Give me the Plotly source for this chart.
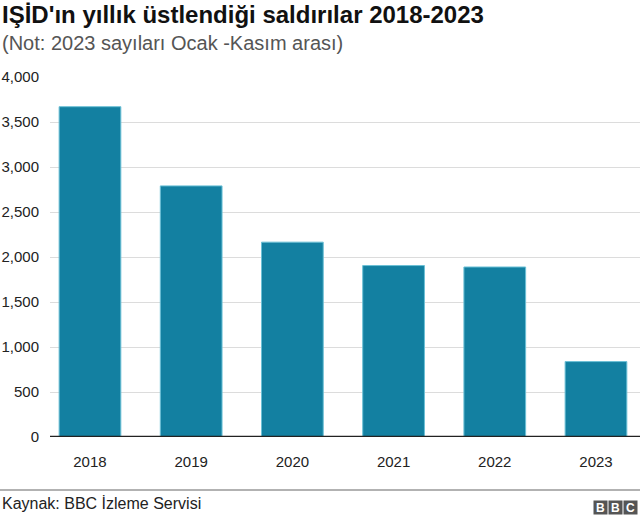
import plotly.graph_objects as go

years = ["2018", "2019", "2020", "2021", "2022", "2023"]
attacks = [3670, 2790, 2165, 1905, 1889, 838]
y_ticks = [0, 500, 1000, 1500, 2000, 2500, 3000, 3500, 4000]

W, H = 640, 518
L, R, T, B = 50, 0, 77, 81
ph = H - T - B  # plot height in px
pw = W - L - R

def py(p):  # pixel y -> paper y
    return (H - B - p) / ph

def px(p):  # pixel x -> paper x
    return (p - L) / pw

FONT = "Liberation Sans, Arial, Helvetica, sans-serif"

fig = go.Figure(go.Bar(
    x=list(range(len(years))), y=attacks,
    marker=dict(color="#1380A1", line=dict(color="#6cc0d6", width=1)),
    width=0.61, hoverinfo="x+y",
))

fig.update_layout(
    width=W, height=H,
    margin=dict(l=L, r=R, t=T, b=B),
    plot_bgcolor="white", paper_bgcolor="white",
    font=dict(family=FONT, size=14, color="#222222"),
    showlegend=False,
    separators=".,",
    xaxis=dict(
        tickmode="array", tickvals=list(range(len(years))), ticktext=years,
        range=[-0.395, 5.435], showgrid=False, zeroline=False,
        showline=False, ticks="", tickfont=dict(size=15, color="#222222"),
        ticklabelstandoff=14,
    ),
    yaxis=dict(
        range=[0, 4000], tickvals=y_ticks, tickformat=",",
        showgrid=True, gridcolor="#dcdcdc", gridwidth=1,
        zeroline=False, showline=False, ticks="",
        tickfont=dict(size=15, color="#222222"), ticklabelstandoff=10,
    ),
    shapes=[
        dict(type="line", xref="paper", yref="y", x0=0, x1=1, y0=0, y1=0,
             line=dict(color="#222222", width=2.5)),
        dict(type="line", xref="paper", yref="paper", x0=px(0), x1=px(640),
             y0=py(490), y1=py(490), line=dict(color="#999999", width=1.5)),
    ],
    annotations=[
        dict(text="<b>IŞİD'ın yıllık üstlendiği saldırılar 2018-2023</b>",
             xref="paper", yref="paper", x=px(0), y=py(15), xanchor="left",
             yanchor="middle", showarrow=False,
             font=dict(size=24, color="#111111", family=FONT)),
        dict(text="(Not: 2023 sayıları Ocak -Kasım arası)",
             xref="paper", yref="paper", x=px(0), y=py(43), xanchor="left",
             yanchor="middle", showarrow=False,
             font=dict(size=20, color="#555555", family=FONT)),
        dict(text="Kaynak: BBC İzleme Servisi",
             xref="paper", yref="paper", x=px(0), y=py(503), xanchor="left",
             yanchor="middle", showarrow=False,
             font=dict(size=16, color="#222222", family=FONT)),
    ] + [
        dict(text="<b>%s</b>" % ch, xref="paper", yref="paper",
             x=px(600.5 + 15 * i), y=py(507), xanchor="center", yanchor="middle",
             showarrow=False, bgcolor="#555555", width=13, height=13,
             borderpad=0, font=dict(size=12, color="white", family=FONT))
        for i, ch in enumerate("BBC")
    ],
)

fig.write_html("out.html", config={"displayModeBar": False},
               post_script="document.body.style.margin='0';")
